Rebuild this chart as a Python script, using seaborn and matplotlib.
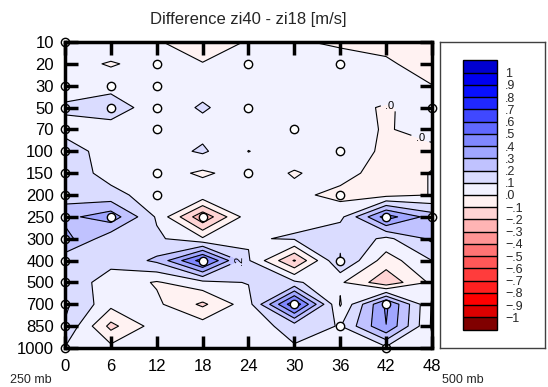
import numpy as np
import matplotlib
matplotlib.use("Agg")
import matplotlib.pyplot as plt
import seaborn as sns
from matplotlib.colors import ListedColormap, BoundaryNorm

# ---------------- data ----------------
hours = [0, 6, 12, 18, 24, 30, 36, 42, 48]
pressure_levels = [10, 20, 30, 50, 70, 100, 150, 200, 250, 300, 400, 500, 700, 850, 1000]

# difference values (m/s) per pressure level, one value per forecast hour
diff_10 = [0.05, 0.09, 0.008, -0.05, 0.007, 0.02, -0.03, -0.04, -0.06]
diff_20 = [0.05, -0.012, 0.05, 0.004, 0.05, 0.05, 0.08, 0.02, -0.06]
diff_30 = [0.04, 0.07, 0.05, 0.07, 0.05, 0.05, 0.06, 0.08, 0.003]
diff_50 = [0.12, 0.15, 0.05, 0.11, 0.05, 0.05, 0.05, -0.015, 0.06]
diff_70 = [0.06, 0.06, 0.05, 0.07, 0.05, 0.05, 0.05, -0.01, 0.045]
diff_100 = [0.163, 0.04, 0.05, 0.115, -0.002, 0.05, 0.06, -0.02, -0.03]
diff_150 = [0.164, 0.06, 0.05, -0.018, 0.05, -0.008, 0.04, -0.05, 0.005]
diff_200 = [0.15, 0.133, 0.05, 0.07, 0.05, 0.025, -0.03, -0.03, 0.003]
diff_250 = [0.27, 0.36, 0.087, -0.28, 0.06, 0.07, 0.07, 0.45, 0.25]
diff_300 = [0.34, 0.13, 0.12, 0.015, 0.09, 0.11, 0.19, 0.075, 0.22]
diff_400 = [0.12, 0.125, 0.22, 0.55, 0.11, -0.21, 0.205, -0.05, 0.10]
diff_500 = [0.153, 0.062, -0.01, 0.07, 0.105, 0.12, 0.015, -0.17, 0.02]
diff_700 = [0.22, 0.03, 0.02, -0.12, 0.06, 0.58, -0.01, 0.42, -0.01]
diff_850 = [0.19, -0.13, 0.05, 0.05, 0.05, 0.14, 0.095, 0.398, -0.015]
diff_1000 = [0.095, 0.03, 0.05, 0.05, 0.04, 0.09, 0.05, 0.08, 0.03]

# marked points (hour, pressure level)
marker_hours = [0, 0, 0, 0, 0, 0, 0, 0, 0, 0, 0, 0, 0, 0,
                6, 6, 6,
                12, 12, 12, 12, 12, 12,
                18, 18,
                24, 24, 24,
                30, 30,
                36, 36, 36, 36, 36,
                42, 42, 42,
                48, 48]
marker_levels = [10, 30, 50, 70, 100, 150, 200, 250, 300, 400, 500, 700, 850, 1000,
                 30, 50, 250,
                 20, 30, 50, 70, 150, 200,
                 250, 400,
                 20, 50, 150,
                 70, 700,
                 20, 100, 200, 400, 850,
                 250, 700, 1000,
                 50, 250]

contour_levels = [-1.0, -0.9, -0.8, -0.7, -0.6, -0.5, -0.4, -0.3, -0.2, -0.1, 0.0,
                  0.1, 0.2, 0.3, 0.4, 0.5, 0.6, 0.7, 0.8, 0.9, 1.0]
labelled_levels = [0.0, 0.2]
cbar_labels = ["\u22121", "\u2212.9", "\u2212.8", "\u2212.7", "\u2212.6", "\u2212.5",
               "\u2212.4", "\u2212.3", "\u2212.2", "\u2212.1", ".0", ".1", ".2", ".3",
               ".4", ".5", ".6", ".7", ".8", ".9", "1"]
fill_colors = ["#DC0000", "#FF0000", "#FF2020", "#FF3C3C", "#FF5858", "#FF7474",
               "#FF9494", "#FFB4B4", "#FFD4D4", "#FFF2F2", "#F2F2FF", "#DADCFF",
               "#C0C2FF", "#A0A6FF", "#8088FF", "#6068FF", "#4048FF", "#2028FF",
               "#0810FF", "#0000F0"]
under_color = "#800000"
over_color = "#0000D0"

# ---------------- figure ----------------
sns.set_theme(style="white")
plt.rcParams['font.family'] = ['Liberation Sans', 'DejaVu Sans']
plt.rcParams['contour.negative_linestyle'] = 'solid'

W, H = 548, 387
fig = plt.figure(figsize=(W / 100, H / 100), dpi=100)
fig.patch.set_facecolor("white")

ax = fig.add_axes([65 / W, (H - 348) / H, 367 / W, 306 / H])
ax.set_axisbelow(False)

Z = np.array([diff_10, diff_20, diff_30, diff_50, diff_70, diff_100, diff_150,
              diff_200, diff_250, diff_300, diff_400, diff_500, diff_700,
              diff_850, diff_1000])
level_idx = np.arange(len(pressure_levels))
X, Y = np.meshgrid(hours, level_idx)

cmap = ListedColormap(fill_colors)
cmap.set_under(under_color)
cmap.set_over(over_color)
norm = BoundaryNorm(contour_levels, cmap.N)

cf = ax.contourf(X, Y, Z, levels=contour_levels, cmap=cmap, norm=norm,
                 extend='both', zorder=1)
other_levels = [v for v in contour_levels if v not in labelled_levels]
ax.contour(X, Y, Z, levels=other_levels, colors='black', linewidths=0.8,
           linestyles='solid', zorder=2)
cs_lab = ax.contour(X, Y, Z, levels=labelled_levels, colors='black',
                    linewidths=0.8, linestyles='solid', zorder=2)


def _fmt(v):
    s = f"{v:.1f}"
    return s.replace("0.", ".", 1) if s.startswith("0.") else s


labels = ax.clabel(cs_lab, fmt=_fmt, fontsize=8, inline=True,
                   manual=[(42.5, 2.9), (46.5, 4.4), (23.3, 10.3)])
for t in labels:
    if t.get_text() == ".0":
        t.set_rotation(0)

circle_y = [pressure_levels.index(v) for v in marker_levels]
sns.scatterplot(x=marker_hours, y=circle_y, ax=ax, s=36, color='white',
                edgecolor='black', linewidth=1.0, zorder=2.3, clip_on=False,
                legend=False)

ax.set_xlim(0, 48)
ax.set_ylim(len(pressure_levels) - 1, 0)
ax.set_xticks(hours)
ax.set_xticklabels([str(h) for h in hours])
ax.set_yticks(level_idx)
ax.set_yticklabels([str(p) for p in pressure_levels])
ax.tick_params(direction='in', length=9, width=2.5, bottom=True, left=True,
               top=True, right=True, labelsize=12, pad=8, colors='black')
ax.set_xlabel("")
ax.set_ylabel("")
for sp in ax.spines.values():
    sp.set_linewidth(2.5)
    sp.set_color('black')
    sp.set_zorder(3)
ax.set_title("Difference zi40 - zi18 [m/s]", fontsize=12, pad=13)

fig.text(10 / W, 1 - 380 / H, "250 mb", fontsize=9, va='center', ha='left')
fig.text(442 / W, 1 - 380 / H, "500 mb", fontsize=9, va='center', ha='left')

# colorbar panel
pax = fig.add_axes([440 / W, (H - 348) / H, 105 / W, 306 / H])
pax.set_xticks([])
pax.set_yticks([])
pax.set_facecolor('white')
for sp in pax.spines.values():
    sp.set_linewidth(1.0)
    sp.set_color('#404040')

inner = 296 / 1.1
cax = fig.add_axes([463 / W, (H - 343 + inner * 0.05) / H, 34 / W, inner / H])
cb = fig.colorbar(cf, cax=cax, extend='both', extendrect=True, extendfrac=0.05,
                  drawedges=True, ticks=contour_levels)
cb.ax.set_yticklabels(cbar_labels)
cb.ax.tick_params(length=0, labelsize=9, pad=6)
cb.outline.set_linewidth(1.0)
cb.outline.set_edgecolor('black')
cb.dividers.set_linewidth(1.0)
cb.dividers.set_color('black')

fig.savefig("out.png", dpi=100, facecolor='white')
